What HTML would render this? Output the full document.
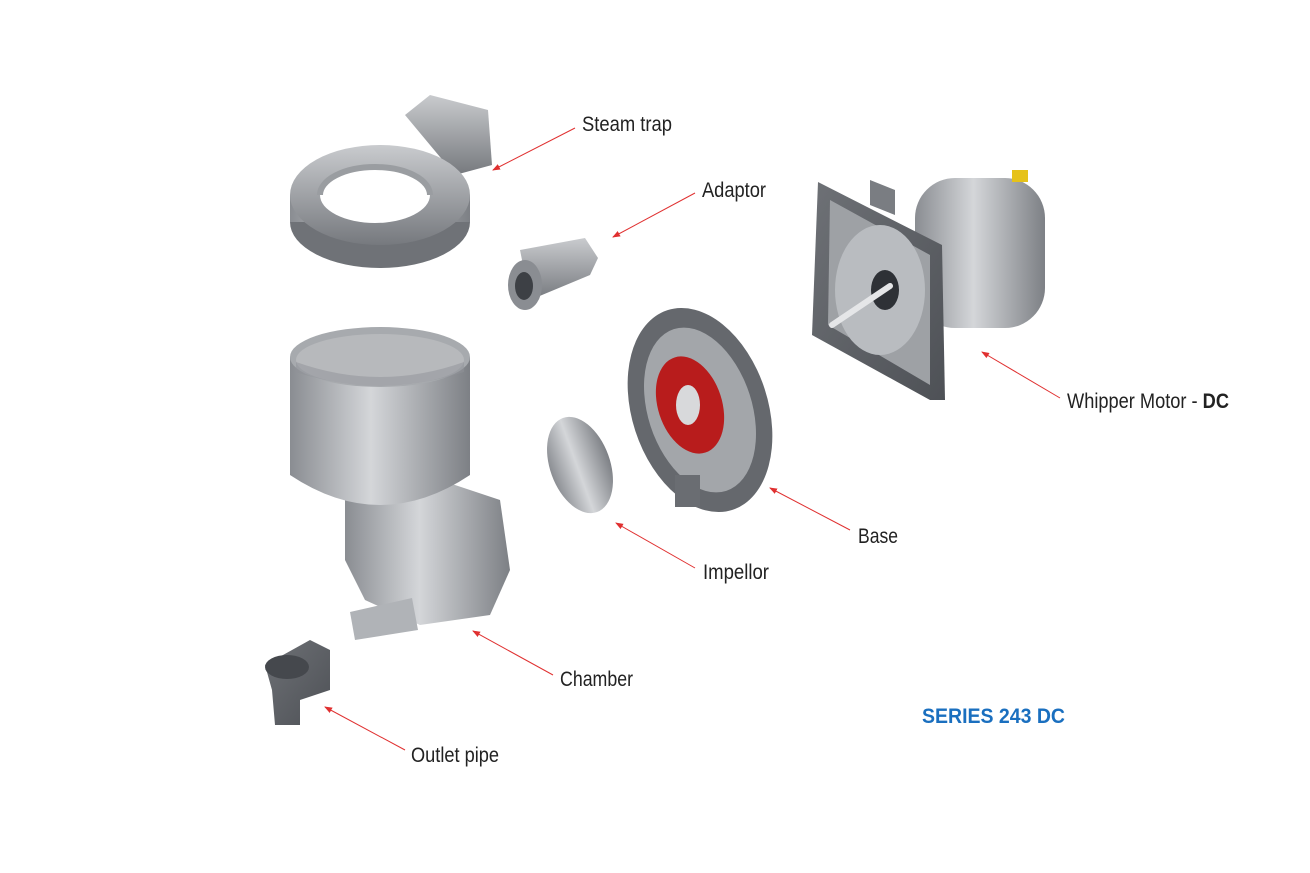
<!DOCTYPE html>
<html><head><meta charset="utf-8"><style>
html,body{margin:0;padding:0;background:#fff;}
svg{display:block;}
text{font-family:"Liberation Sans Narrow","Liberation Sans",sans-serif;font-size:21px;fill:#222;}
</style></head><body>
<svg width="1310" height="873" viewBox="0 0 1310 873" xmlns="http://www.w3.org/2000/svg">
<defs>
<linearGradient id="g" x1="0" y1="0" x2="1" y2="0">
<stop offset="0" stop-color="#8a8d92"/><stop offset="0.45" stop-color="#d4d6d9"/><stop offset="1" stop-color="#7d8085"/></linearGradient>
<linearGradient id="gv" x1="0" y1="0" x2="0" y2="1">
<stop offset="0" stop-color="#c9cbce"/><stop offset="1" stop-color="#76797e"/></linearGradient>
<linearGradient id="gd" x1="0" y1="0" x2="1" y2="1">
<stop offset="0" stop-color="#6e7176"/><stop offset="1" stop-color="#4e5156"/></linearGradient>
<marker id="a" markerWidth="8" markerHeight="6" refX="7" refY="3" orient="auto"><path d="M0,0 L8,3 L0,6 z" fill="#e03030"/></marker>
</defs>

<!-- Steam trap -->
<path d="M405,115 L430,95 L488,110 L492,165 L455,175 Z" fill="url(#gv)"/>
<ellipse cx="380" cy="222" rx="90" ry="46" fill="#6f7277"/>
<rect x="290" y="195" width="180" height="27" fill="url(#g)"/>
<ellipse cx="380" cy="195" rx="90" ry="50" fill="url(#gv)"/>
<ellipse cx="375" cy="195" rx="55" ry="28" fill="#fff"/>
<path d="M320,195 a55,28 0 0 1 110,0" fill="none" stroke="#9a9da1" stroke-width="6"/>

<!-- Adaptor -->
<path d="M520,250 L585,238 L598,258 L590,275 L530,300 Z" fill="url(#gv)"/>
<ellipse cx="525" cy="285" rx="17" ry="25" fill="#8a8d92"/>
<ellipse cx="524" cy="286" rx="9" ry="14" fill="#3d4045"/>

<!-- Motor -->
<rect x="915" y="178" width="130" height="150" rx="40" fill="url(#g)"/>
<rect x="1012" y="170" width="16" height="12" fill="#e6c21a"/>
<path d="M818,182 L942,245 L945,400 L930,400 L812,335 Z" fill="url(#gd)"/>
<path d="M830,200 L930,255 L930,385 L828,325 Z" fill="#9ea1a5"/>
<ellipse cx="880" cy="290" rx="45" ry="65" fill="#b9bcc0"/>
<ellipse cx="885" cy="290" rx="14" ry="20" fill="#2e3136"/>
<path d="M832,325 L890,286" stroke="#e5e6e8" stroke-width="6" stroke-linecap="round"/>
<path d="M870,180 L895,190 L895,215 L870,205 Z" fill="#7a7d82"/>

<!-- Base -->
<ellipse cx="700" cy="410" rx="68" ry="105" transform="rotate(-18 700 410)" fill="#65686d"/>
<ellipse cx="700" cy="410" rx="52" ry="85" transform="rotate(-18 700 410)" fill="#a3a6aa"/>
<ellipse cx="690" cy="405" rx="32" ry="50" transform="rotate(-18 690 405)" fill="#b81c1c"/>
<ellipse cx="688" cy="405" rx="12" ry="20" fill="#d8d9db"/>
<rect x="675" y="475" width="25" height="32" fill="#6a6d72"/>

<!-- Impellor -->
<ellipse cx="580" cy="465" rx="30" ry="50" transform="rotate(-20 580 465)" fill="url(#g)"/>

<!-- Chamber -->
<path d="M345,480 L440,480 L500,500 L510,570 L490,615 L420,625 L365,600 L345,560 Z" fill="url(#g)"/>
<path d="M350,612 L412,598 L418,630 L355,640 Z" fill="#b0b3b7"/>
<path d="M290,357 L290,475 Q380,535 470,475 L470,357 Z" fill="url(#g)"/>
<ellipse cx="380" cy="357" rx="90" ry="30" fill="#a7aaae"/>
<ellipse cx="380" cy="360" rx="84" ry="26" fill="#b7b9bc"/>
<path d="M296,362 Q380,392 464,362 L464,372 Q380,400 296,372 Z" fill="#8f9297" opacity="0.5"/>

<!-- Outlet pipe -->
<path d="M265,665 L310,640 L330,650 L330,690 L300,700 L300,725 L275,725 L272,690 Z" fill="url(#gd)"/>
<ellipse cx="287" cy="667" rx="22" ry="12" fill="#45484d"/>

<!-- Leader lines -->
<g stroke="#e03030" stroke-width="1" fill="none" marker-end="url(#a)">
<line x1="575" y1="128" x2="493" y2="170"/>
<line x1="695" y1="193" x2="613" y2="237"/>
<line x1="1060" y1="398" x2="982" y2="352"/>
<line x1="850" y1="530" x2="770" y2="488"/>
<line x1="695" y1="568" x2="616" y2="523"/>
<line x1="553" y1="675" x2="473" y2="631"/>
<line x1="405" y1="750" x2="325" y2="707"/>
</g>

<!-- Labels -->
<text x="582" y="131" textLength="90" lengthAdjust="spacingAndGlyphs">Steam trap</text>
<text x="702" y="197" textLength="64" lengthAdjust="spacingAndGlyphs">Adaptor</text>
<text x="1067" y="408" textLength="162" lengthAdjust="spacingAndGlyphs">Whipper Motor - <tspan font-weight="bold">DC</tspan></text>
<text x="858" y="543" textLength="40" lengthAdjust="spacingAndGlyphs">Base</text>
<text x="703" y="579" textLength="66" lengthAdjust="spacingAndGlyphs">Impellor</text>
<text x="560" y="686" textLength="73" lengthAdjust="spacingAndGlyphs">Chamber</text>
<text x="411" y="762" textLength="88" lengthAdjust="spacingAndGlyphs">Outlet pipe</text>
<text x="922" y="723" textLength="143" lengthAdjust="spacingAndGlyphs" style="fill:#1a6fbf;font-weight:bold;">SERIES 243 DC</text>
</svg>
</body></html>
